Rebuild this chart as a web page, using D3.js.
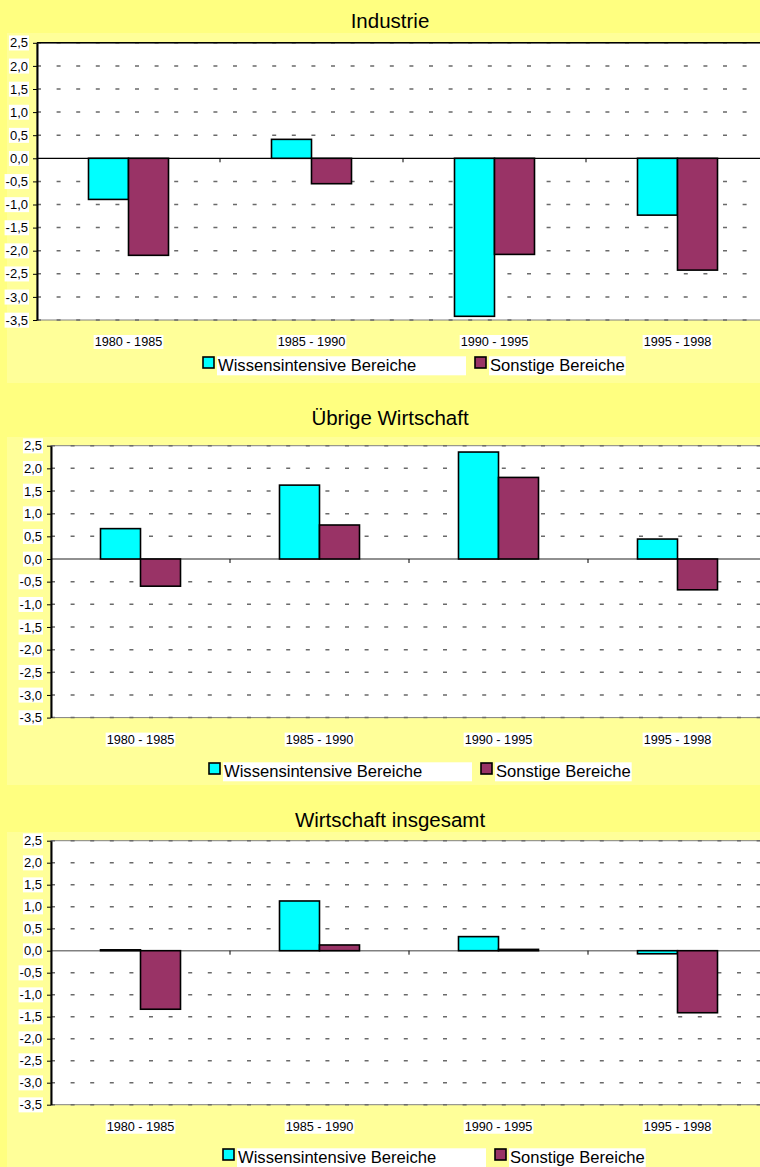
<!DOCTYPE html>
<html>
<head>
<meta charset="utf-8">
<script src="https://cdn.jsdelivr.net/npm/d3@7"></script>
<style>
  body { margin: 0; background: #ffff80; }
  svg { display: block; font-family: 'Liberation Sans', Arial, sans-serif; }
</style>
</head>
<body>
<div id="chart"></div>
<script>
'use strict';

// Chart data
const periods = ['1980 - 1985', '1985 - 1990', '1990 - 1995', '1995 - 1998'];
const seriesNames = ['Wissensintensive Bereiche', 'Sonstige Bereiche'];
const seriesColors = ['#00ffff', '#993366'];
const yTicks = [2.5, 2.0, 1.5, 1.0, 0.5, 0.0, -0.5, -1.0, -1.5, -2.0, -2.5, -3.0, -3.5];

const industrieWissen = [-0.89, 0.41, -3.42, -1.23];
const industrieSonstige = [-2.10, -0.55, -2.08, -2.42];
const uebrigeWissen = [0.67, 1.63, 2.36, 0.44];
const uebrigeSonstige = [-0.60, 0.75, 1.80, -0.68];
const gesamtWissen = [0.02, 1.13, 0.32, -0.07];
const gesamtSonstige = [-1.33, 0.13, 0.03, -1.41];

const width = 760;
const height = 1167;

// German number format : comma decimal, plain hyphen as minus
const fmt = d3.formatLocale({ decimal: ',', thousands: '.', grouping: [3], currency: ['', ''], minus: '-' }).format('.1f');

const svg = d3.select('#chart').append('svg')
  .attr('width', width)
  .attr('height', height);

svg.append('rect')
  .attr('width', width)
  .attr('height', height)
  .attr('fill', '#ffff80');

// Put a white box behind a text node (Excel-style label background)
function whiteBehind(textSel, padX = 1, padY = 1, minWidth = 0) {
  textSel.each(function () {
    const box = this.getBBox();
    d3.select(this.parentNode).insert('rect', () => this)
      .attr('x', box.x - padX)
      .attr('y', box.y - padY)
      .attr('width', Math.max(box.width + 2 * padX, minWidth))
      .attr('height', box.height + 2 * padY)
      .attr('fill', '#fff');
  });
}

// One panel = title, plot area with grouped bars and legend
function drawPanel(opts) {
  const g = svg.append('g');

  // Lighter panel background below the title band
  g.append('rect')
    .attr('x', 7)
    .attr('y', opts.panelTop)
    .attr('width', width - 7)
    .attr('height', opts.panelBottom - opts.panelTop)
    .attr('fill', '#ffff99');

  g.append('text')
    .attr('x', 390)
    .attr('y', opts.titleY)
    .attr('text-anchor', 'middle')
    .style('font-size', '20.5px')
    .text(opts.title);

  const x = d3.scaleBand()
    .domain(periods)
    .range([opts.x0, opts.x0 + 4 * opts.step])
    .padding(0);
  const x1 = d3.scaleBand()
    .domain(seriesNames)
    .range([-40, 40]);
  const y = d3.scaleLinear()
    .domain([-3.5, 2.5])
    .range([opts.bottom, opts.top]);

  const plotW = x.range()[1] - x.range()[0];

  // Plot area
  g.append('rect')
    .attr('x', opts.x0)
    .attr('y', opts.top)
    .attr('width', plotW)
    .attr('height', opts.bottom - opts.top)
    .attr('fill', '#fff')
    .attr('stroke', '#808080')
    .attr('stroke-width', 1);

  // Dashed horizontal gridlines
  g.selectAll('.grid')
    .data(yTicks.filter(d => d !== 0))
    .enter().append('line')
    .attr('class', 'grid')
    .attr('x1', opts.x0)
    .attr('x2', opts.x0 + plotW)
    .attr('y1', d => y(d))
    .attr('y2', d => y(d))
    .attr('stroke', '#6a6a6a')
    .attr('stroke-width', 1.5)
    .attr('stroke-dasharray', '4 15.6');

  if (opts.topLine) {
    g.append('line')
      .attr('x1', opts.x0).attr('x2', opts.x0 + plotW)
      .attr('y1', y(2.5)).attr('y2', y(2.5))
      .attr('stroke', opts.topLine)
      .attr('stroke-width', 1.5);
  }

  // Category axis on the zero line
  g.append('line')
    .attr('x1', opts.x0).attr('x2', opts.x0 + plotW)
    .attr('y1', y(0)).attr('y2', y(0))
    .attr('stroke', opts.zeroColor)
    .attr('stroke-width', opts.zeroWidth);

  g.selectAll('.cat-tick')
    .data(periods.slice(1))
    .enter().append('line')
    .attr('class', 'cat-tick')
    .attr('x1', d => x(d)).attr('x2', d => x(d))
    .attr('y1', y(0)).attr('y2', y(0) + 4)
    .attr('stroke', '#000')
    .attr('stroke-width', 1);

  // Bars
  const rows = [];
  periods.forEach((p, i) => {
    opts.values.forEach((vals, s) => rows.push({ period: p, series: seriesNames[s], color: seriesColors[s], value: vals[i] }));
  });
  g.selectAll('.bar')
    .data(rows)
    .enter().append('rect')
    .attr('class', 'bar')
    .attr('x', d => x(d.period) + x.bandwidth() / 2 + x1(d.series))
    .attr('width', x1.bandwidth())
    .attr('y', d => y(Math.max(0, d.value)))
    .attr('height', d => Math.abs(y(d.value) - y(0)))
    .attr('fill', d => d.color)
    .attr('stroke', '#000')
    .attr('stroke-width', 1.6);

  // Value axis
  const yAxis = g.append('g')
    .attr('transform', `translate(${opts.x0}, 0)`)
    .call(d3.axisLeft(y)
      .tickValues(yTicks)
      .tickSize(4)
      .tickSizeOuter(0)
      .tickPadding(5)
      .tickFormat(fmt));
  yAxis.select('.domain')
    .attr('stroke', '#000')
    .attr('stroke-width', 2);
  yAxis.selectAll('.tick line')
    .attr('stroke', '#000');
  yAxis.selectAll('.tick text')
    .style('font-size', '13px')
    .style('font-family', "'Liberation Sans', Arial, sans-serif")
    .attr('fill', '#000');
  whiteBehind(yAxis.selectAll('.tick text'), 1, 0);

  // Category labels below the plot
  const cats = g.selectAll('.cat-label')
    .data(periods)
    .enter().append('text')
    .attr('class', 'cat-label')
    .attr('x', d => x(d) + x.bandwidth() / 2)
    .attr('y', opts.bottom + 26)
    .attr('text-anchor', 'middle')
    .style('font-size', '12.7px')
    .text(d => d);
  whiteBehind(cats, 1, 0);

  // Legend
  const legend = g.selectAll('.legend')
    .data(seriesNames)
    .enter().append('g')
    .attr('class', 'legend')
    .attr('transform', (d, i) => `translate(${opts.legendX + i * 272}, ${opts.legendY})`);
  legend.append('rect')
    .attr('width', 11)
    .attr('height', 11)
    .attr('fill', (d, i) => seriesColors[i])
    .attr('stroke', '#000')
    .attr('stroke-width', 1.6);
  legend.each(function (d, i) {
    const t = d3.select(this).append('text')
      .attr('x', 15)
      .attr('y', 14.3)
      .style('font-size', '16.6px')
      .text(d);
    whiteBehind(t, 1, 0, i === 0 ? 249 : 0);
  });
}

drawPanel({
  title: 'Industrie',
  values: [industrieWissen, industrieSonstige],
  panelTop: 33, panelBottom: 383, titleY: 28,
  x0: 37, step: 183, top: 42.8, bottom: 320,
  zeroColor: '#000', zeroWidth: 1.2, topLine: '#000',
  legendX: 203, legendY: 357
});

drawPanel({
  title: 'Übrige Wirtschaft',
  values: [uebrigeWissen, uebrigeSonstige],
  panelTop: 437, panelBottom: 785, titleY: 425,
  x0: 51, step: 179, top: 445.7, bottom: 717.6,
  zeroColor: '#222', zeroWidth: 1.2, topLine: null,
  legendX: 209, legendY: 763
});

drawPanel({
  title: 'Wirtschaft insgesamt',
  values: [gesamtWissen, gesamtSonstige],
  panelTop: 832, panelBottom: 1167, titleY: 827,
  x0: 51, step: 179, top: 840.7, bottom: 1104.7,
  zeroColor: '#808080', zeroWidth: 1.6, topLine: null,
  legendX: 223, legendY: 1149
});
</script>
</body>
</html>
